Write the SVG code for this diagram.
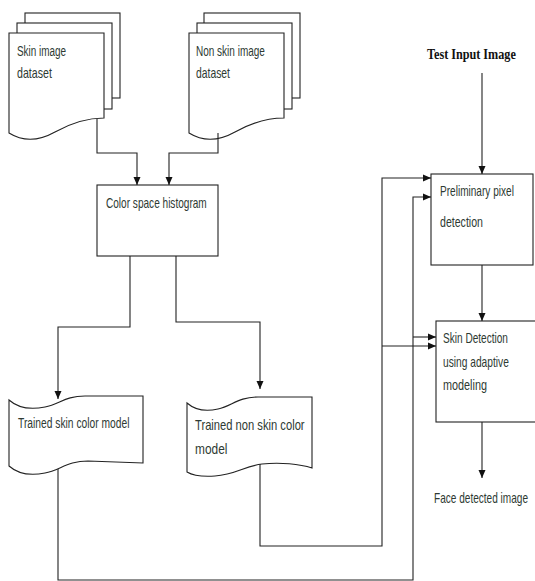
<svg xmlns="http://www.w3.org/2000/svg" width="535" height="581" viewBox="0 0 535 581">
<style>
.bg{fill:#ffffff}
.shape{fill:#ffffff;stroke:#222;stroke-width:1.1}
.edge{fill:none;stroke:#222;stroke-width:1.1}
.t{font-family:"Liberation Sans",Arial,sans-serif;font-size:14px;fill:#2e3a33}
.tb{font-family:"Liberation Serif","Times New Roman",serif;font-size:14px;font-weight:bold;fill:#111}
</style>
<defs>
<marker id="ah" markerWidth="8" markerHeight="8" refX="8" refY="4" orient="auto" markerUnits="userSpaceOnUse">
<path d="M0,0.5 L8,4 L0,7.5 Z" fill="#111"/>
</marker>
</defs>
<rect class="bg" x="0" y="0" width="535" height="581"/>

<g id="skin-dataset">
<rect class="shape" x="25" y="13" width="95" height="85"/>
<rect class="shape" x="17" y="23" width="95" height="86"/>
<path class="shape" d="M9,33 H104 V118 Q80,118 55,132 Q30,146 9,133 Z"/>
<text class="t" transform="translate(17,56) scale(0.71,1)">Skin image</text>
<text class="t" transform="translate(17,78) scale(0.76,1)">dataset</text>
</g>

<g id="nonskin-dataset">
<rect class="shape" x="204" y="13" width="96" height="85"/>
<rect class="shape" x="197" y="23" width="95" height="86"/>
<path class="shape" d="M189,33 H284 V118 Q260,118 235,132 Q210,146 189,133 Z"/>
<text class="t" transform="translate(196,56) scale(0.715,1)">Non skin image</text>
<text class="t" transform="translate(196,78) scale(0.74,1)">dataset</text>
</g>

<g id="histogram">
<rect class="shape" x="97" y="185" width="121" height="71"/>
<text class="t" transform="translate(106,208) scale(0.72,1)">Color space histogram</text>
</g>

<g id="trained-skin">
<path class="shape" d="M9,400 C18,408 30,410 45,407 C60,404 65,396 85,396 L143,396 V463 L88,461 C68,461 60,470 45,473 C30,476 18,474 9,466 Z"/>
<text class="t" transform="translate(18,428) scale(0.734,1)">Trained skin color model</text>
</g>

<g id="trained-nonskin">
<path class="shape" d="M187,403 C195,410 205,412 218,409 C232,406 238,397 258,397 L312,397 V468 C300,464 280,462 262,464 C245,466 235,475 215,476 C200,477 192,475 187,472 Z"/>
<text class="t" transform="translate(195,430) scale(0.8,1)">Trained non skin color</text>
<text class="t" transform="translate(195,454) scale(0.85,1)">model</text>
</g>

<g id="test-input">
<text class="tb" transform="translate(427,59) scale(0.87,1)">Test Input Image</text>
</g>

<g id="preliminary">
<rect class="shape" x="431" y="174" width="102" height="91"/>
<text class="t" transform="translate(440,196) scale(0.72,1)">Preliminary pixel</text>
<text class="t" transform="translate(440,227) scale(0.757,1)">detection</text>
</g>

<g id="skin-detection">
<rect class="shape" x="436" y="321" width="110" height="101"/>
<text class="t" transform="translate(443,343) scale(0.72,1)">Skin Detection</text>
<text class="t" transform="translate(443,367) scale(0.73,1)">using adaptive</text>
<text class="t" transform="translate(443,390) scale(0.775,1)">modeling</text>
</g>

<g id="face-detected">
<text class="t" transform="translate(434,503) scale(0.72,1)">Face detected image</text>
</g>

<g id="connectors">
<path class="edge" d="M97,119 V153 H137 V185" marker-end="url(#ah)"/>
<path class="edge" d="M218,133 V153 H169 V185" marker-end="url(#ah)"/>
<path class="edge" d="M130,256 V327 H58 V399" marker-end="url(#ah)"/>
<path class="edge" d="M176,256 V322 H260 V389" marker-end="url(#ah)"/>
<path class="edge" d="M58,469 V580 H413 V197 H431" marker-end="url(#ah)"/>
<path class="edge" d="M413,337 H436" marker-end="url(#ah)"/>
<path class="edge" d="M260,464 V546 H382 V178 H431" marker-end="url(#ah)"/>
<path class="edge" d="M382,346 H436" marker-end="url(#ah)"/>
<path class="edge" d="M482,73 V174" marker-end="url(#ah)"/>
<path class="edge" d="M482,265 V321" marker-end="url(#ah)"/>
<path class="edge" d="M482,422 V478" marker-end="url(#ah)"/>
</g>
</svg>
